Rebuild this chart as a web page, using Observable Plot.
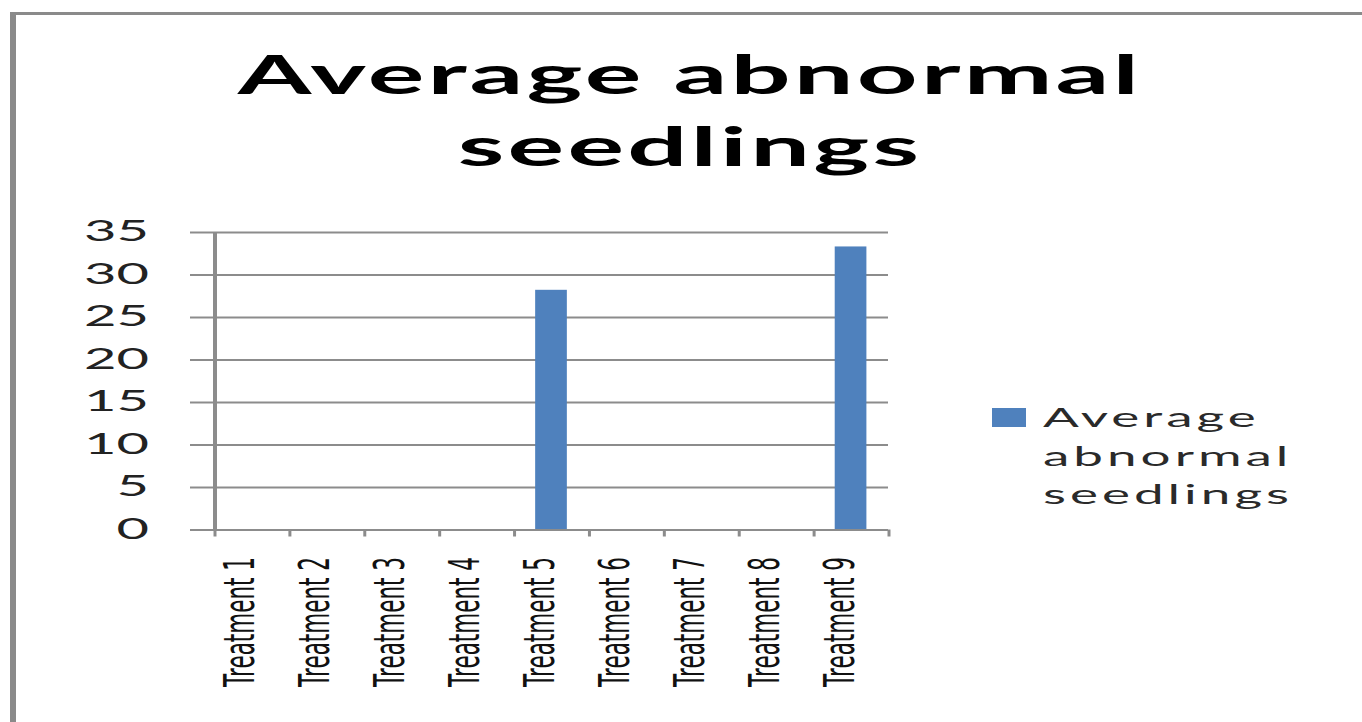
<!DOCTYPE html>
<html>
<head>
<meta charset="utf-8">
<script src="https://cdn.jsdelivr.net/npm/d3@7"></script>
<script src="https://cdn.jsdelivr.net/npm/@observablehq/plot@0.6"></script>
<style>
  html, body { margin: 0; padding: 0; background: #fff; overflow: hidden; }
  /* The whole chart is laid out at half width and stretched horizontally. */
  #page {
    position: relative; width: 681px; height: 722px;
    transform: scaleX(2); transform-origin: 0 0;
    font-family: Lato, "Open Sans", sans-serif;
  }
  #frame {
    position: absolute; left: 5px; top: 12px; width: 720px; height: 760px;
    border-left: 3px solid #8a8a8a; border-top: 3px solid #8a8a8a;
  }
  #title {
    position: absolute; left: 95px; width: 500px; top: 38px;
    text-align: center; font-weight: 700; font-size: 53px; line-height: 72px;
    letter-spacing: 1.6px; color: #000;
  }
  #chart { position: absolute; left: 0; top: 200px; }
  #legend { position: absolute; left: 496px; top: 398px; display: flex; align-items: flex-start; }
  #legend .swatch { width: 16.5px; height: 19px; margin-top: 10px; }
  #legend .label {
    margin-left: 9px; width: 150px; font-size: 26.5px; line-height: 38.5px;
    letter-spacing: 2px; color: #2a2a2a;
  }
</style>
</head>
<body>
<div id="page">
  <div id="frame"></div>
  <div id="title"></div>
  <div id="chart"></div>
  <div id="legend"><div class="swatch"></div><div class="label"></div></div>
</div>
<script>
// Chart data
const titleText = "Average abnormal seedlings";
const seriesName = "Average abnormal seedlings";
const categories = ["Treatment 1", "Treatment 2", "Treatment 3", "Treatment 4", "Treatment 5",
                    "Treatment 6", "Treatment 7", "Treatment 8", "Treatment 9"];
const values = [0, 0, 0, 0, 28.2, 0, 0, 0, 33.3];
const yTicks = [0, 5, 10, 15, 20, 25, 30, 35];

const barColor = "#4f81bd";
const gridColor = "#8c8c8c";

const rows = categories.map((name, i) => ({name, i, value: values[i]}));
// Category boundaries carry the small tick marks under the axis
const boundaries = d3.range(categories.length + 1);

const chart = Plot.plot({
  width: 681,
  height: 522,
  marginLeft: 107,
  marginRight: 237,
  marginTop: 32,
  marginBottom: 192.5,
  style: {fontFamily: "Lato, 'Open Sans', sans-serif", background: "transparent"},
  x: {type: "linear", domain: [0, categories.length], axis: null},
  y: {domain: [0, 35], axis: null},
  marks: [
    Plot.gridY(yTicks, {stroke: gridColor, strokeOpacity: 1, strokeWidth: 2}),
    Plot.axisY(yTicks, {
      label: null, tickSize: 12, tickPadding: 21, stroke: gridColor, strokeWidth: 2,
      fontSize: 28, fill: "#222", letterSpacing: 0.5
    }),
    Plot.rectY(rows, {
      x1: "i", x2: d => d.i + 1, y: "value", fill: barColor,
      insetLeft: 10.8, insetRight: 10.8
    }),
    Plot.ruleX([0], {stroke: gridColor, strokeWidth: 2}),
    Plot.ruleY([0], {stroke: gridColor, strokeWidth: 2}),
    Plot.axisX(boundaries, {
      label: null, tickSize: 7, tickFormat: () => "", stroke: gridColor, strokeWidth: 1.5
    }),
    Plot.text(rows, {
      x: d => d.i + 0.5, y: 0, text: "name", rotate: -90,
      textAnchor: "end", lineAnchor: "bottom", dy: 27, dx: 1,
      fontFamily: "DejaVu Sans", fontSize: 21.5, letterSpacing: 1.6, fill: "#111"
    })
  ]
});

document.getElementById("chart").append(chart);
document.getElementById("title").textContent = titleText;
document.querySelector("#legend .swatch").style.background = barColor;
document.querySelector("#legend .label").textContent = seriesName;
</script>
</body>
</html>
